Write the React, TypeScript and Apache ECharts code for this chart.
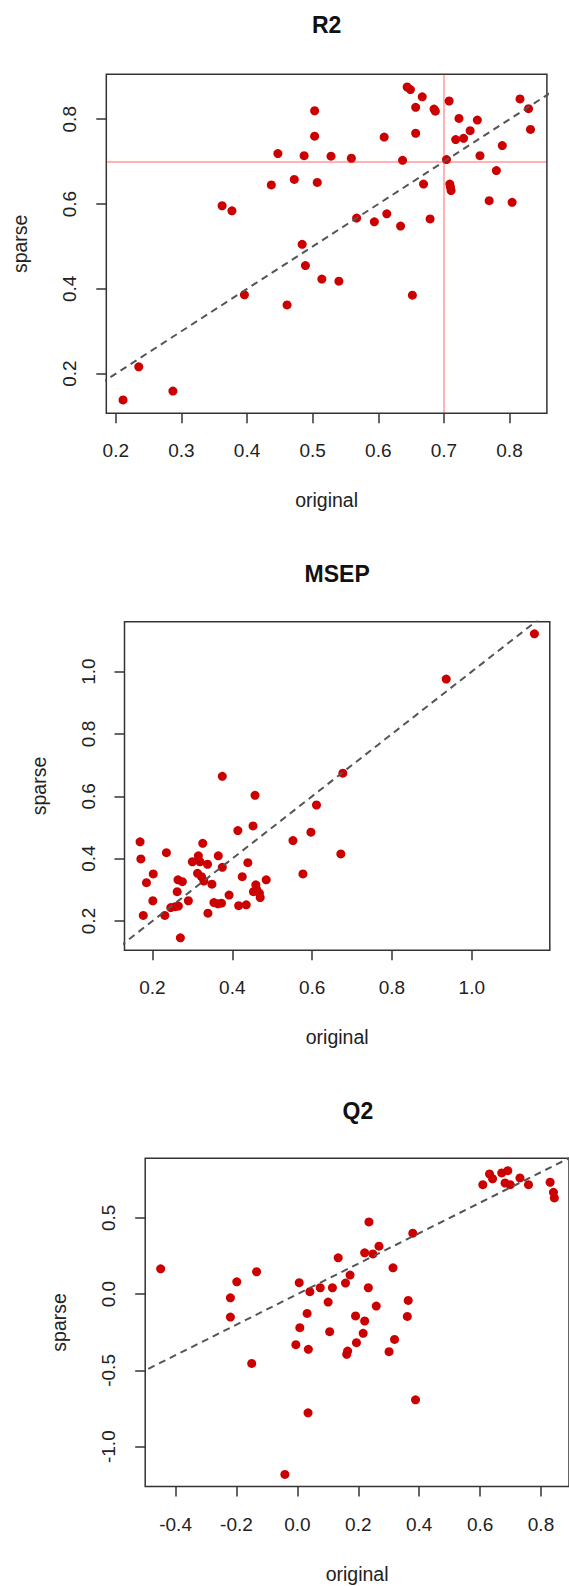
import React, { useEffect, useRef } from "react";
import * as echarts from "echarts";

// ---------- data ----------
const r2Original = [
  0.644, 0.649, 0.667, 0.708, 0.657, 0.685, 0.687, 0.503, 0.723, 0.751, 0.740,
  0.503, 0.657, 0.609, 0.718, 0.730, 0.789, 0.447, 0.487, 0.528, 0.559, 0.637,
  0.704, 0.755, 0.780, 0.437, 0.472, 0.507, 0.669, 0.709, 0.710, 0.711, 0.769,
  0.362, 0.377, 0.567, 0.594, 0.613, 0.634, 0.679, 0.484, 0.816, 0.829, 0.832,
  0.804, 0.489, 0.514, 0.540, 0.396, 0.461, 0.652, 0.235, 0.287, 0.211,
];
const r2Sparse = [
  0.876, 0.870, 0.853, 0.843, 0.828, 0.824, 0.819, 0.820, 0.802, 0.798, 0.773,
  0.760, 0.767, 0.758, 0.752, 0.755, 0.738, 0.719, 0.714, 0.713, 0.708, 0.703,
  0.705, 0.714, 0.679, 0.645, 0.658, 0.651, 0.647, 0.647, 0.640, 0.632, 0.608,
  0.596, 0.584, 0.567, 0.558, 0.577, 0.548, 0.565, 0.505, 0.848, 0.825, 0.776,
  0.604, 0.455, 0.423, 0.418, 0.386, 0.362, 0.385, 0.216, 0.159, 0.138,
];

const msepOriginal = [
  1.157, 0.936, 0.677, 0.375, 0.457, 0.611, 0.597, 0.552, 0.672, 0.577, 0.414,
  0.452, 0.169, 0.171, 0.235, 0.326, 0.365, 0.300, 0.315, 0.319, 0.338, 0.375,
  0.439, 0.202, 0.185, 0.313, 0.323, 0.264, 0.275, 0.329, 0.349, 0.425, 0.485,
  0.459, 0.461, 0.453, 0.468, 0.470, 0.262, 0.201, 0.290, 0.392, 0.354, 0.364,
  0.373, 0.416, 0.435, 0.246, 0.257, 0.265, 0.231, 0.177, 0.339, 0.270,
];
const msepSparse = [
  1.121, 0.976, 0.674, 0.664, 0.603, 0.572, 0.485, 0.458, 0.415, 0.351, 0.490,
  0.505, 0.454, 0.399, 0.419, 0.449, 0.409, 0.390, 0.409, 0.390, 0.382, 0.372,
  0.387, 0.351, 0.323, 0.353, 0.342, 0.332, 0.326, 0.328, 0.318, 0.342, 0.332,
  0.316, 0.302, 0.294, 0.289, 0.275, 0.294, 0.265, 0.265, 0.283, 0.259, 0.255,
  0.257, 0.249, 0.252, 0.243, 0.246, 0.248, 0.218, 0.218, 0.225, 0.146,
];

const q2Original = [
  0.609, 0.631, 0.641, 0.671, 0.691, 0.682, 0.699, 0.731, 0.759, 0.830, 0.841,
  0.844, 0.235, 0.379, 0.268, 0.221, 0.248, 0.134, -0.449, -0.134, -0.199,
  0.314, 0.173, 0.158, 0.006, 0.041, 0.075, 0.115, 0.233, -0.220, 0.101, 0.259,
  0.364, -0.220, 0.032, 0.191, 0.221, 0.361, 0.008, 0.106, 0.216, 0.319, -0.005,
  0.036, 0.165, 0.162, 0.194, 0.301, -0.150, 0.388, 0.035, -0.041,
];
const q2Sparse = [
  0.718, 0.788, 0.757, 0.795, 0.810, 0.729, 0.718, 0.762, 0.718, 0.734, 0.668,
  0.631, 0.474, 0.400, 0.315, 0.271, 0.264, 0.238, 0.166, 0.147, 0.081, 0.173,
  0.125, 0.073, 0.075, 0.016, 0.042, 0.042, 0.042, -0.024, -0.052, -0.078,
  -0.041, -0.150, -0.126, -0.143, -0.176, -0.146, -0.220, -0.246, -0.257,
  -0.297, -0.331, -0.362, -0.373, -0.394, -0.318, -0.377, -0.454, -0.693,
  -0.778, -1.182,
];

const r2XTicks = [0.2, 0.3, 0.4, 0.5, 0.6, 0.7, 0.8];
const r2YTicks = [0.2, 0.4, 0.6, 0.8];
const msepXTicks = [0.2, 0.4, 0.6, 0.8, 1.0];
const msepYTicks = [0.2, 0.4, 0.6, 0.8, 1.0];
const q2XTicks = [-0.4, -0.2, 0.0, 0.2, 0.4, 0.6, 0.8];
const q2YTicks = [-1.0, -0.5, 0.0, 0.5];

const titles = ["R2", "MSEP", "Q2"];
const xLabel = "original";
const yLabel = "sparse";
const r2Threshold = 0.7;
const diagonal = [
  [-5, -5],
  [5, 5],
];

// ---------- layout ----------
const FONT = "'Liberation Sans', Arial, Helvetica, sans-serif";
const TICK_FS = 19;
const LAB_FS = 19.5;
const TITLE_FS = 23;

const panels = [
  {
    title: titles[0],
    xs: r2Original,
    ys: r2Sparse,
    xTicks: r2XTicks,
    yTicks: r2YTicks,
    grid: { left: 106.3, top: 74.3, width: 440.6, height: 339 },
    xRange: [0.1855, 0.857],
    yRange: [0.1065, 0.906],
    titleY: 25,
    refLines: true,
  },
  {
    title: titles[1],
    xs: msepOriginal,
    ys: msepSparse,
    xTicks: msepXTicks,
    yTicks: msepYTicks,
    grid: { left: 124.5, top: 621.7, width: 425.3, height: 328.6 },
    xRange: [0.13, 1.1955],
    yRange: [0.106, 1.16],
    titleY: 573.8,
    refLines: false,
  },
  {
    title: titles[2],
    xs: q2Original,
    ys: q2Sparse,
    xTicks: q2XTicks,
    yTicks: q2YTicks,
    grid: { left: 145.2, top: 1158.3, width: 425.3, height: 328.3 },
    xRange: [-0.4998, 0.892],
    yRange: [-1.262, 0.891],
    titleY: 1110.5,
    refLines: false,
  },
];

function buildOption() {
  const grid: any[] = [];
  const xAxis: any[] = [];
  const yAxis: any[] = [];
  const title: any[] = [];
  const series: any[] = [];

  panels.forEach((p, i) => {
    grid.push({
      ...p.grid,
      show: true,
      borderColor: "#333",
      borderWidth: 1.5,
      backgroundColor: "transparent",
      containLabel: false,
    });
    const tickStyle = { color: "#333", width: 1.5 };
    xAxis.push({
      type: "value",
      gridIndex: i,
      position: "bottom",
      min: p.xRange[0],
      max: p.xRange[1],
      axisLine: { show: false, onZero: false },
      axisTick: { show: true, customValues: p.xTicks, length: 10, lineStyle: tickStyle },
      axisLabel: {
        customValues: p.xTicks,
        formatter: (v: number) => v.toFixed(1),
        margin: 28,
        fontSize: TICK_FS,
        fontFamily: FONT,
        color: "#222",
      },
      splitLine: { show: false },
      name: xLabel,
      nameLocation: "middle",
      nameGap: 77,
      nameTextStyle: { fontSize: LAB_FS, fontFamily: FONT, color: "#222" },
    });
    yAxis.push({
      type: "value",
      gridIndex: i,
      position: "left",
      min: p.yRange[0],
      max: p.yRange[1],
      axisLine: { show: false, onZero: false },
      axisTick: { show: true, customValues: p.yTicks, length: 10, lineStyle: tickStyle },
      axisLabel: {
        customValues: p.yTicks,
        formatter: (v: number) => v.toFixed(1),
        rotate: 90,
        margin: 27,
        fontSize: TICK_FS,
        fontFamily: FONT,
        color: "#222",
      },
      splitLine: { show: false },
      name: yLabel,
      nameLocation: "middle",
      nameGap: 76,
      nameTextStyle: { fontSize: LAB_FS, fontFamily: FONT, color: "#222" },
    });
    const cx = p.grid.left + p.grid.width / 2;
    title.push({
      text: p.title,
      left: cx,
      top: p.titleY,
      textAlign: "center",
      textVerticalAlign: "middle",
      padding: 0,
      textStyle: { fontSize: TITLE_FS, fontWeight: "bold", fontFamily: FONT, color: "#111" },
    });
    series.push({
      type: "scatter",
      xAxisIndex: i,
      yAxisIndex: i,
      symbol: "circle",
      symbolSize: 9,
      itemStyle: { color: "#CC0000", opacity: 1 },
      data: p.xs.map((x, k) => [x, p.ys[k]]),
      z: 3,
    });
    series.push({
      type: "line",
      xAxisIndex: i,
      yAxisIndex: i,
      data: diagonal,
      showSymbol: false,
      symbol: "none",
      clip: true,
      silent: true,
      lineStyle: { color: "#555", width: 2, type: [7, 5] },
      z: 4,
      markLine: p.refLines
        ? {
            silent: true,
            symbol: ["none", "none"],
            label: { show: false },
            lineStyle: { color: "rgba(255,0,0,0.4)", type: "solid", width: 1.5 },
            data: [{ xAxis: r2Threshold }, { yAxis: r2Threshold }],
          }
        : undefined,
    });
  });

  return {
    animation: false,
    backgroundColor: "#fff",
    title,
    grid,
    xAxis,
    yAxis,
    series,
  };
}

export default function App() {
  const ref = useRef<HTMLDivElement>(null);
  useEffect(() => {
    if (!ref.current) return;
    const chart = echarts.init(ref.current, undefined, { renderer: "svg" });
    chart.setOption(buildOption() as any);
    return () => chart.dispose();
  }, []);
  return (
    <div
      ref={ref}
      style={{ position: "fixed", left: 0, top: 0, width: 569, height: 1586, background: "#fff" }}
    />
  );
}
